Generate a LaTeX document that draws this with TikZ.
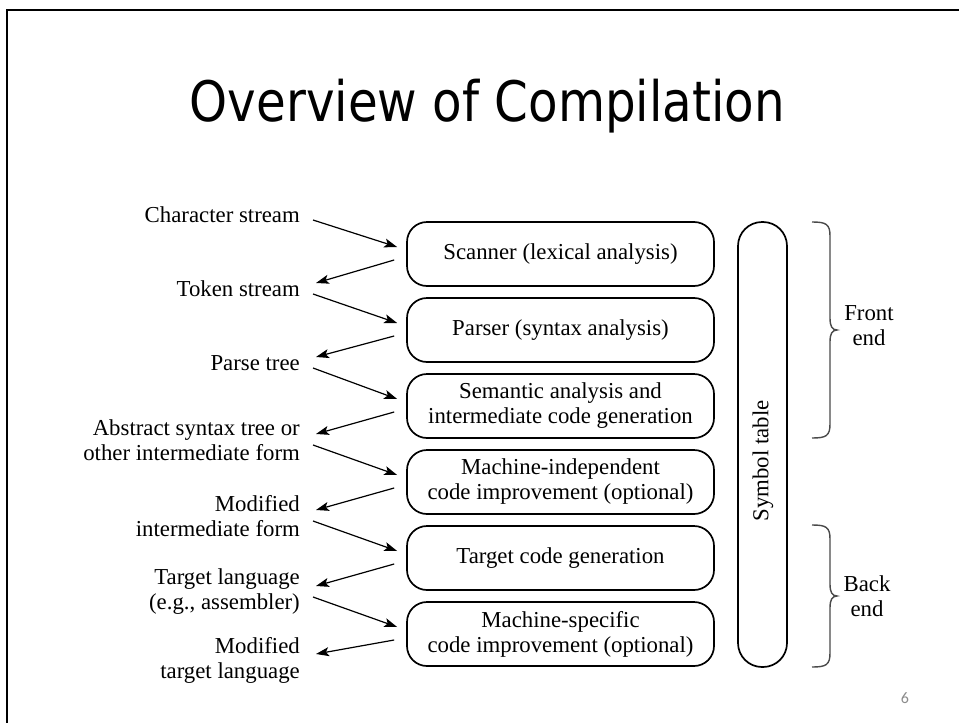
\documentclass[tikz,border=0pt]{standalone}
\usepackage{fontspec}
\setmainfont{Liberation Serif}
\newfontfamily\titlefont{DejaVu Sans}
\newfontfamily\numfont{Carlito}
\usetikzlibrary{arrows.meta,calc}
\definecolor{bracegray}{HTML}{4A4A4A}
\definecolor{numgray}{HTML}{8C8C8C}
\begin{document}
\begin{tikzpicture}[x=1pt,y=-1pt,
  txt/.style={font=\fontsize{22.8}{25}\selectfont, inner sep=0pt},
  lbl/.style={txt, anchor=east, align=right},
  phase/.style={txt, draw, line width=1.7pt, rounded corners=20pt,
    minimum width=307pt, minimum height=64pt, align=center},
  flow/.style={line width=1.2pt, -{Stealth[length=13pt,width=9pt,inset=3pt]}},
  curly/.style={draw=bracegray, line width=1.4pt}]
\useasboundingbox (0,0) rectangle (959,723);
\fill[white] (0,0) rectangle (959,723);
% slide frame
\draw[line width=2.5pt] (7,730) -- (7,10) -- (966,10);
% title
\node[inner sep=0pt, anchor=north] (title) at (487.5,79)
  {\resizebox*{595pt}{54pt}{\titlefont Overview of Compilation}};
% compiler phases
\node[phase] (scan) at (560.5,254) {Scanner (lexical analysis)};
\node[phase] (parse) at (560.5,330) {Parser (syntax analysis)};
\node[phase] (sem) at (560.5,406) {Semantic analysis and\\intermediate code generation};
\node[phase] (mi) at (560.5,482) {Machine-independent\\code improvement (optional)};
\node[phase] (tcg) at (560.5,558) {Target code generation};
\node[phase] (ms) at (560.5,634) {Machine-specific\\code improvement (optional)};
% symbol table
\node[draw, line width=1.7pt, rounded corners=24pt, minimum width=49pt,
  minimum height=445pt, inner sep=0pt] (symtab) at (762.5,444.5) {};
\node[txt, rotate=90] (symtxt) at (763,461) {Symbol table};
% intermediate representations
\node[lbl] (cs) at (300,215) {Character stream};
\node[lbl] (ts) at (300,289) {Token stream};
\node[lbl] (pt) at (300,363) {Parse tree};
\node[lbl] (ast) at (300,440) {Abstract syntax tree or\\other intermediate form};
\node[lbl] (mif) at (300,516) {Modified\\intermediate form};
\node[lbl] (tl) at (300,592) {Target language\\(e.g., assembler)};
\node[lbl] (mtl) at (300,660) {Modified\\target language};
% data flow into and out of each phase
\foreach \src/\ph/\dst in {cs/scan/ts, ts/parse/pt, pt/sem/ast, ast/mi/mif, mif/tcg/tl, tl/ms/mtl}{
  \draw[flow] ($(\src.east)+(13,5)$) -- ($(\ph.west)+(-9,-7)$);
  \draw[flow] ($(\ph.west)+(-12,6)$) -- ($(\dst.east)+(16,-6)$);
}
% front end brace
\draw[curly] (812,222) .. controls (826,222) and (830,224) .. (830,236)
  -- (830,318) .. controls (830,326) and (832,330) .. (837,330)
  .. controls (832,330) and (830,334) .. (830,342)
  -- (830,424) .. controls (830,436) and (826,438) .. (812,438);
\node[txt, align=center] (fe) at (869,326) {Front\\end};
% back end brace
\draw[curly] (812,525) .. controls (826,525) and (830,527) .. (830,539)
  -- (830,584) .. controls (830,592) and (832,596) .. (837,596)
  .. controls (832,596) and (830,600) .. (830,608)
  -- (830,653) .. controls (830,665) and (826,667) .. (812,667);
\node[txt, align=center] (be) at (867,596) {Back\\end};
% slide number
\node[inner sep=0pt, text=numgray, font=\numfont\fontsize{16}{18}\selectfont] (num) at (905,698) {6};
\end{tikzpicture}
\end{document}
